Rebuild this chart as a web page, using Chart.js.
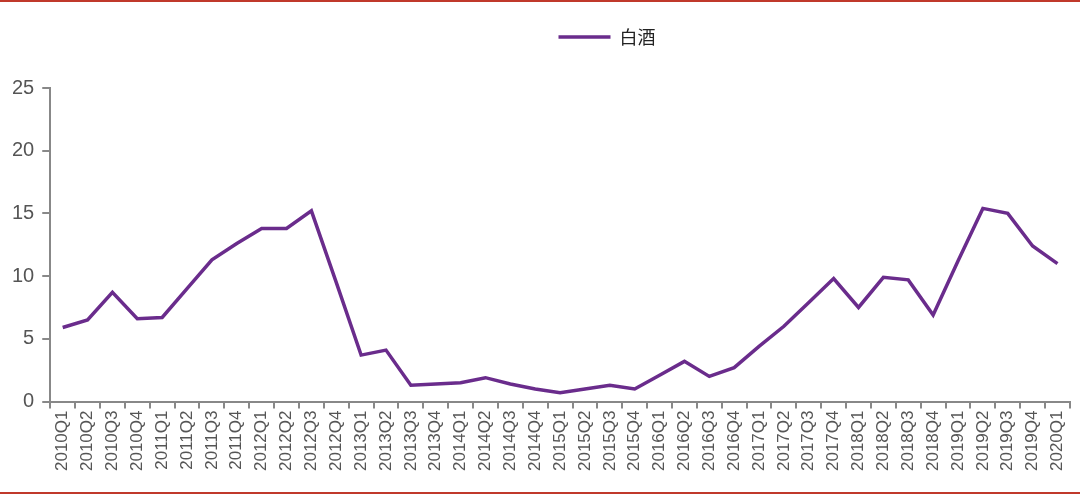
<!DOCTYPE html><html><head><meta charset="utf-8">
<script src="https://cdn.jsdelivr.net/npm/chart.js@4"></script>
<style>html,body{margin:0;padding:0;background:#fff}
#w{position:relative;width:1080px;height:494px;box-sizing:border-box;border-top:2px solid #c0392b;border-bottom:2px solid #c0392b}
canvas{display:block}
</style></head><body><div id="w"><canvas id="c" width="1080" height="490"></canvas></div>
<script>
const years=[2010,2011,2012,2013,2014,2015,2016,2017,2018,2019];
const categories=[];years.forEach(y=>{for(let q=1;q<=4;q++)categories.push(y+'Q'+q)});categories.push('2020Q1');
const seriesName='白酒';
const values=[5.9,6.5,8.7,6.6,6.7,9.0,11.3,12.6,13.8,13.8,15.2,9.5,3.7,4.1,1.3,1.4,1.5,1.9,1.4,1.0,0.7,1.0,1.3,1.0,2.1,3.2,2.0,2.7,4.4,6.0,7.9,9.8,7.5,9.9,9.7,6.9,11.2,15.4,15.0,12.4,11.0];
const yTicks=[0,5,10,15,20,25];
const shiftLegend={id:'sl',afterLayout(c){const l=c.legend;l.left+=70;l.right+=70;l.top-=32;l.bottom-=32;}};
new Chart(document.getElementById('c'),{type:'line',plugins:[shiftLegend],
data:{labels:categories,datasets:[{label:seriesName,data:values,borderColor:'#6a2c8c',backgroundColor:'#6a2c8c',borderWidth:3.5,pointRadius:0,tension:0}]},
options:{responsive:false,animation:false,devicePixelRatio:1,
layout:{padding:{left:4,right:10,top:32,bottom:19}},
plugins:{legend:{labels:{boxWidth:52,boxHeight:0,font:{size:18,family:'Noto Sans CJK SC'},color:'#222',padding:26},onClick:null},tooltip:{enabled:false}},
scales:{x:{offset:true,grid:{display:true,drawOnChartArea:false,drawTicks:true,offset:true,color:'#888',lineWidth:2,tickLength:7},border:{color:'#888',width:2},
ticks:{minRotation:90,maxRotation:90,autoSkip:false,font:{size:17,family:'Liberation Sans'},color:'#555',padding:2}},
y:{min:0,max:25,afterBuildTicks:a=>{a.ticks=yTicks.map(v=>({value:v}))},grid:{display:true,drawOnChartArea:false,tickLength:8,drawTicks:true,color:'#888',lineWidth:2},border:{color:'#888',width:2},
ticks:{font:{size:20,family:'Liberation Sans'},color:'#555',padding:8}}}}});
</script></body></html>
